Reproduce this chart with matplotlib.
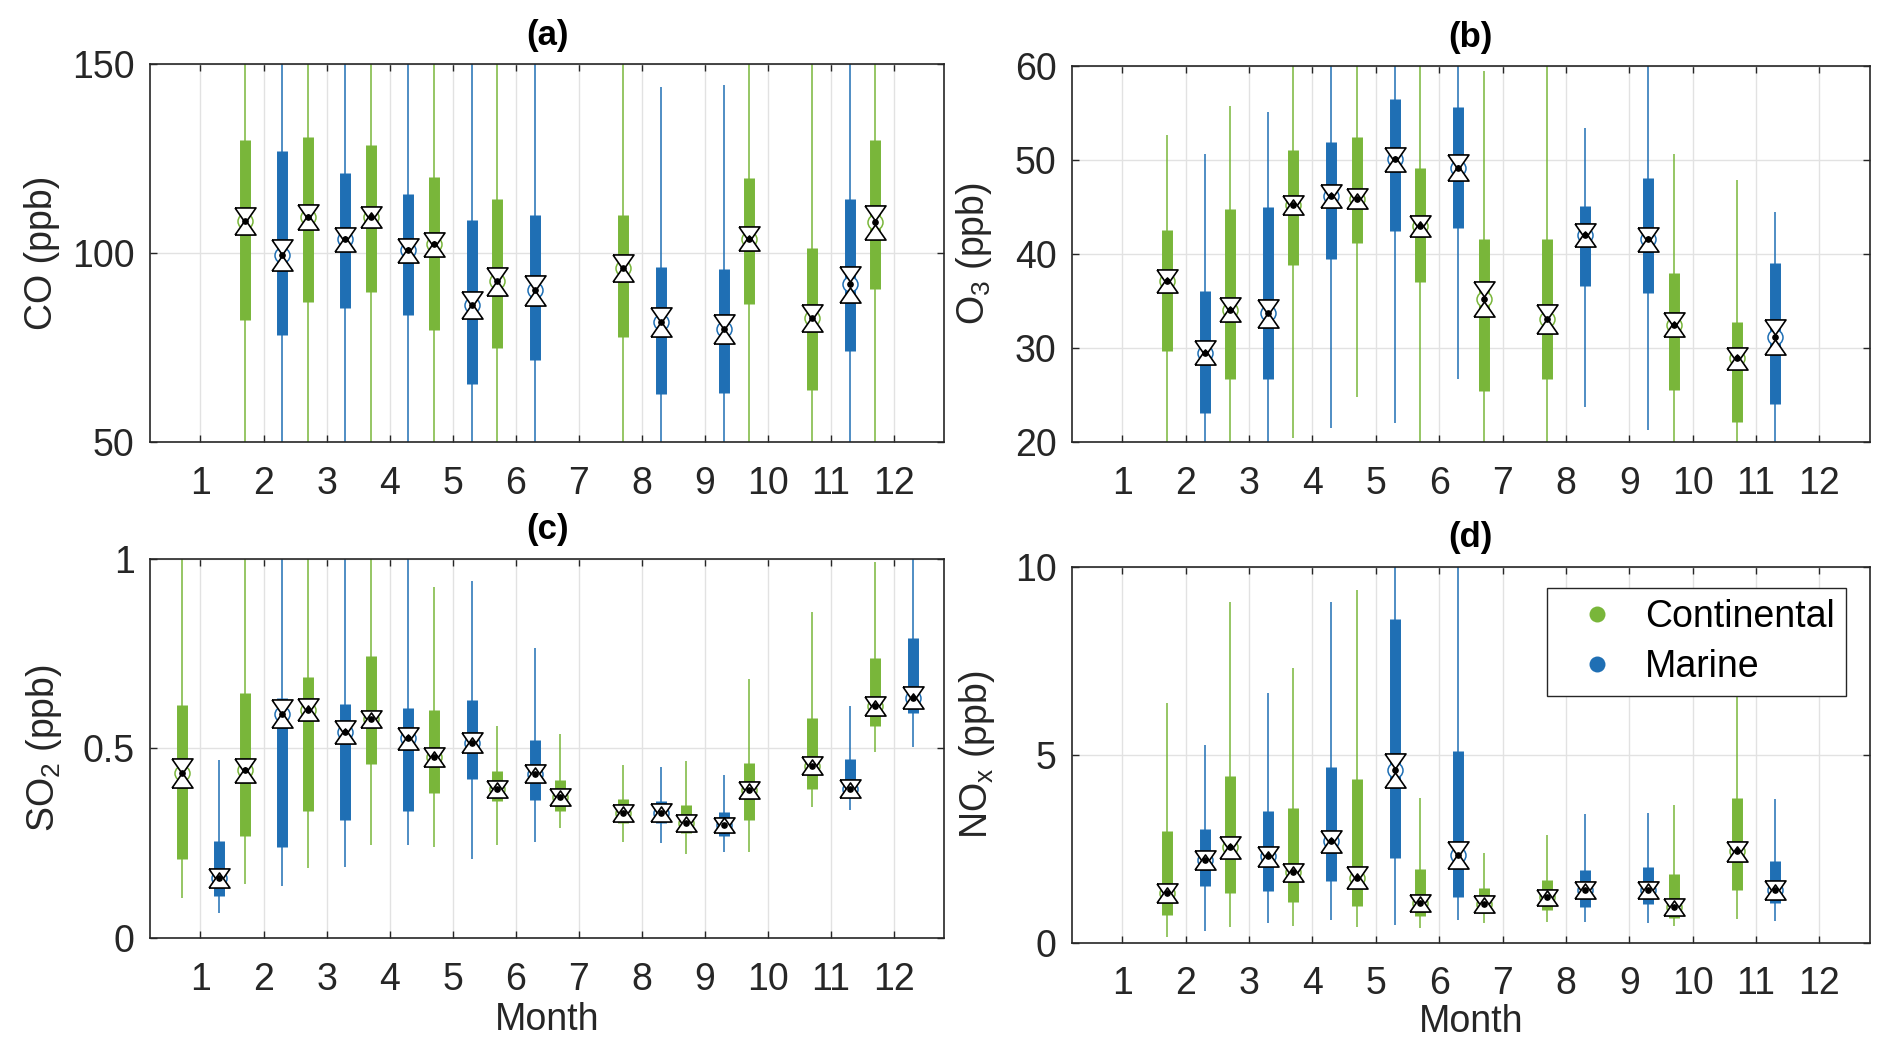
import numpy as np
import matplotlib
matplotlib.use("Agg")
import matplotlib.pyplot as plt
from matplotlib.lines import Line2D

plt.rcParams['font.family'] = ['Liberation Sans', 'DejaVu Sans']
plt.rcParams['mathtext.fontset'] = 'custom'
plt.rcParams['mathtext.rm'] = 'Liberation Sans'
plt.rcParams['mathtext.it'] = 'Liberation Sans:italic'

nan = np.nan
months = np.arange(1, 13)

# ---- (a) CO, ppb ----
co_con_lo = [nan, 45, 45, 45, 45, 45, nan, 45, nan, 45, 45, 45]
co_con_q1 = [nan, 82.3, 87.1, 89.7, 79.7, 74.8, nan, 77.7, nan, 86.5, 63.8, 90.6]
co_con_med = [nan, 108.5, 109.6, 109.6, 102.3, 92.5, nan, 96.0, nan, 103.8, 82.7, 108.1]
co_con_q3 = [nan, 130.0, 130.8, 128.6, 120.1, 114.3, nan, 110.1, nan, 119.9, 101.3, 129.8]
co_con_hi = [nan, 160, 160, 160, 160, 160, nan, 160, nan, 160, 160, 160]
co_con_notch = [nan, 1.6, 1.3, 0.75, 1.2, 1.7, nan, 1.6, nan, 1.2, 1.6, 2.5]

co_mar_lo = [nan, 45, 45, 45, 45, 45, nan, 45, 45, nan, 45, nan]
co_mar_q1 = [nan, 78.2, 85.5, 83.5, 65.4, 71.6, nan, 62.8, 62.9, nan, 74.1, nan]
co_mar_med = [nan, 99.5, 103.6, 100.7, 86.2, 90.2, nan, 81.8, 79.9, nan, 91.7, nan]
co_mar_q3 = [nan, 127.1, 121.3, 115.7, 108.7, 110.0, nan, 96.4, 95.9, nan, 114.2, nan]
co_mar_hi = [nan, 160, 160, 160, 160, 160, nan, 143.9, 144.4, nan, 160, nan]
co_mar_notch = [nan, 2.2, 1.3, 1.15, 1.6, 2.0, nan, 1.85, 1.75, nan, 2.8, nan]

# ---- (b) O3, ppb ----
o3_con_lo = [nan, 18, 18, 20.4, 24.8, 18, 18, 18, nan, 18, 18, nan]
o3_con_q1 = [nan, 29.7, 26.75, 38.8, 41.2, 37.0, 25.4, 26.75, nan, 25.5, 22.1, nan]
o3_con_med = [nan, 37.15, 34.1, 45.2, 45.9, 43.0, 35.2, 33.1, nan, 32.5, 28.9, nan]
o3_con_q3 = [nan, 42.6, 44.8, 51.1, 52.5, 49.2, 41.6, 41.6, nan, 38.0, 32.8, nan]
o3_con_hi = [nan, 52.7, 55.7, 62, 62, 62, 59.5, 62, nan, 50.6, 47.9, nan]
o3_con_notch = [nan, 0.39, 0.50, 0.18, 0.23, 0.32, 1.03, 0.78, nan, 0.44, 0.41, nan]

o3_mar_lo = [nan, 18, 18, 21.5, 22.0, 26.7, nan, 23.7, 21.3, nan, 18, nan]
o3_mar_q1 = [nan, 23.1, 26.75, 39.5, 42.5, 42.8, nan, 36.6, 35.9, nan, 24.1, nan]
o3_mar_med = [nan, 29.5, 33.7, 46.2, 50.1, 49.2, nan, 42.0, 41.55, nan, 31.15, nan]
o3_mar_q3 = [nan, 36.05, 45.0, 51.9, 56.5, 55.6, nan, 45.1, 48.1, nan, 39.1, nan]
o3_mar_hi = [nan, 50.6, 55.1, 62, 62, 62, nan, 53.4, 62, nan, 44.5, nan]
o3_mar_notch = [nan, 0.50, 0.69, 0.43, 0.48, 0.57, nan, 0.44, 0.51, nan, 1.06, nan]

# ---- (c) SO2, ppb ----
so2_con_lo = [0.106, 0.142, 0.185, 0.245, 0.240, 0.245, 0.289, 0.252, 0.221, 0.227, 0.344, 0.490]
so2_con_q1 = [0.209, 0.269, 0.336, 0.458, 0.382, 0.360, 0.335, 0.303, 0.276, 0.310, 0.393, 0.560]
so2_con_med = [0.434, 0.442, 0.602, 0.577, 0.477, 0.394, 0.371, 0.330, 0.303, 0.389, 0.454, 0.612]
so2_con_q3 = [0.615, 0.646, 0.688, 0.744, 0.600, 0.441, 0.417, 0.366, 0.351, 0.460, 0.581, 0.738]
so2_con_hi = [1.05, 1.05, 1.05, 1.05, 0.924, 0.559, 0.537, 0.457, 0.466, 0.682, 0.859, 0.992]
so2_con_notch = [0.0185, 0.0117, 0.0086, 0.0036, 0.0045, 0.0027, 0.0027, 0.0022, 0.0018, 0.0027, 0.0041, 0.0054]

so2_mar_lo = [0.067, 0.138, 0.186, 0.245, 0.209, 0.253, nan, 0.250, 0.228, nan, 0.337, 0.504]
so2_mar_q1 = [0.111, 0.241, 0.312, 0.335, 0.418, 0.364, nan, 0.302, 0.270, nan, 0.382, 0.592]
so2_mar_med = [0.159, 0.591, 0.544, 0.526, 0.515, 0.433, nan, 0.330, 0.297, nan, 0.394, 0.633]
so2_mar_q3 = [0.255, 0.632, 0.616, 0.607, 0.627, 0.523, nan, 0.360, 0.333, nan, 0.471, 0.791]
so2_mar_hi = [0.469, 1.05, 1.05, 1.05, 0.942, 0.764, nan, 0.451, 0.430, nan, 0.611, 1.05]
so2_mar_notch = [0.005, 0.0171, 0.0108, 0.009, 0.0059, 0.0045, nan, 0.0036, 0.0, nan, 0.0041, 0.0095]

# ---- (d) NOx, ppb ----
nox_con_lo = [nan, 0.16, 0.42, 0.44, 0.41, 0.38, 0.53, 0.55, nan, 0.44, 0.62, nan]
nox_con_q1 = [nan, 0.73, 1.33, 1.07, 0.98, 0.71, 0.78, 0.87, nan, 0.64, 1.41, nan]
nox_con_med = [nan, 1.32, 2.53, 1.87, 1.73, 1.05, 1.03, 1.20, nan, 0.95, 2.43, nan]
nox_con_q3 = [nan, 2.98, 4.42, 3.57, 4.34, 1.96, 1.44, 1.66, nan, 1.83, 3.84, nan]
nox_con_hi = [nan, 6.38, 9.06, 7.32, 9.38, 3.84, 2.39, 2.85, nan, 3.66, 7.5, nan]
nox_con_notch = [nan, 0.06, 0.087, 0.041, 0.087, 0.032, 0.019, 0.019, nan, 0.019, 0.073, nan]

nox_mar_lo = [nan, 0.32, 0.53, 0.61, 0.47, 0.59, nan, 0.55, 0.51, nan, 0.57, nan]
nox_mar_q1 = [nan, 1.50, 1.36, 1.64, 2.25, 1.22, nan, 0.94, 1.03, nan, 1.05, nan]
nox_mar_med = [nan, 2.19, 2.30, 2.69, 4.58, 2.33, nan, 1.39, 1.40, nan, 1.40, nan]
nox_mar_q3 = [nan, 3.01, 3.49, 4.66, 8.60, 5.10, nan, 1.93, 2.02, nan, 2.17, nan]
nox_mar_hi = [nan, 5.26, 6.64, 9.06, 10.5, 10.5, nan, 3.43, 3.45, nan, 3.81, nan]
nox_mar_notch = [nan, 0.05, 0.064, 0.096, 0.25, 0.155, nan, 0.027, 0.019, nan, 0.045, nan]

green = '#79b63a'
blue = '#1f6fb4'
dark = '#262626'
fs = 27

# notch markers (triangles a bit wider than tall)
tri_dn = [(-1, 0.72), (1, 0.72), (0, -0.72), (-1, 0.72)]
tri_up = [(-1, -0.72), (1, -0.72), (0, 0.72), (-1, -0.72)]


def draw_boxes(ax, pos, lo, q1, med, q3, hi, notch, color):
    lo, q1, med, q3, hi, notch = [np.asarray(v, float) for v in (lo, q1, med, q3, hi, notch)]
    ok = ~np.isnan(med)
    pos = pos[ok]
    ax.vlines(pos, lo[ok], hi[ok], color=color, lw=1.1, zorder=2)
    ax.vlines(pos, q1[ok], q3[ok], color=color, lw=7.9, capstyle='butt', zorder=3)
    ax.plot(pos, med[ok], ls='none', marker='o', ms=10.8, mfc='white', mec=color, mew=1.1, zorder=4)
    ax.plot(pos, med[ok] + notch[ok], ls='none', marker=tri_dn, ms=15.1, mfc='white', mec='k', mew=1.2, zorder=5)
    ax.plot(pos, med[ok] - notch[ok], ls='none', marker=tri_up, ms=15.1, mfc='white', mec='k', mew=1.2, zorder=5)
    ax.plot(pos, med[ok], ls='none', marker='o', ms=3.8, color='k', zorder=6)


def setup(ax, title, ylabel, ylim, yticks, yticklabels, ylab_x):
    ax.set_xlim(0.2, 12.8)
    ax.set_ylim(*ylim)
    ax.set_xticks(months)
    ax.set_yticks(yticks)
    ax.set_yticklabels(yticklabels)
    ax.grid(True, color='#e2e2e2', lw=1.0)
    ax.set_axisbelow(True)
    ax.tick_params(axis='both', direction='in', top=True, right=True, length=5, width=1,
                   colors=dark, labelsize=fs)
    ax.tick_params(axis='x', pad=17)
    ax.tick_params(axis='y', pad=11)
    for s in ax.spines.values():
        s.set_color(dark)
        s.set_linewidth(1.2)
    ax.set_title(title, fontsize=25, fontweight='bold', pad=14, color='k')
    ax.set_ylabel(ylabel, fontsize=fs, color=dark, va='center')
    ax.yaxis.set_label_coords(ylab_x, 0.5)


fig = plt.figure(figsize=(18.92, 10.55), dpi=100)
ax_a = fig.add_axes([0.0793, 0.5810, 0.4198, 0.3583])
ax_b = fig.add_axes([0.5665, 0.5810, 0.4218, 0.3564])
ax_c = fig.add_axes([0.0793, 0.1109, 0.4198, 0.3596])
ax_d = fig.add_axes([0.5665, 0.1066, 0.4218, 0.3561])

x_con = months - 0.3
x_mar = months + 0.3

draw_boxes(ax_a, x_con, co_con_lo, co_con_q1, co_con_med, co_con_q3, co_con_hi, co_con_notch, green)
draw_boxes(ax_a, x_mar, co_mar_lo, co_mar_q1, co_mar_med, co_mar_q3, co_mar_hi, co_mar_notch, blue)
setup(ax_a, '(a)', 'CO (ppb)', (50, 150), [50, 100, 150], ['50', '100', '150'], -0.136)

draw_boxes(ax_b, x_con, o3_con_lo, o3_con_q1, o3_con_med, o3_con_q3, o3_con_hi, o3_con_notch, green)
draw_boxes(ax_b, x_mar, o3_mar_lo, o3_mar_q1, o3_mar_med, o3_mar_q3, o3_mar_hi, o3_mar_notch, blue)
setup(ax_b, '(b)', r'$\mathregular{O_3}$ (ppb)', (20, 60), [20, 30, 40, 50, 60],
      ['20', '30', '40', '50', '60'], -0.123)

draw_boxes(ax_c, x_con, so2_con_lo, so2_con_q1, so2_con_med, so2_con_q3, so2_con_hi, so2_con_notch, green)
draw_boxes(ax_c, x_mar, so2_mar_lo, so2_mar_q1, so2_mar_med, so2_mar_q3, so2_mar_hi, so2_mar_notch, blue)
setup(ax_c, '(c)', r'$\mathregular{SO_2}$ (ppb)', (0, 1), [0, 0.5, 1], ['0', '0.5', '1'], -0.133)

draw_boxes(ax_d, x_con, nox_con_lo, nox_con_q1, nox_con_med, nox_con_q3, nox_con_hi, nox_con_notch, green)
draw_boxes(ax_d, x_mar, nox_mar_lo, nox_mar_q1, nox_mar_med, nox_mar_q3, nox_mar_hi, nox_mar_notch, blue)
setup(ax_d, '(d)', r'$\mathregular{NO_x}$ (ppb)', (0, 10), [0, 5, 10], ['0', '5', '10'], -0.119)

ax_c.set_xlabel('Month', fontsize=fs, color=dark, va='center')
ax_c.xaxis.set_label_coords(0.5, -0.216)
ax_d.set_xlabel('Month', fontsize=fs, color=dark, va='center')
ax_d.xaxis.set_label_coords(0.5, -0.212)

handles = [Line2D([], [], ls='none', marker='o', ms=11.5, color=green, mec='none'),
           Line2D([], [], ls='none', marker='o', ms=11.5, color=blue, mec='none')]
leg = ax_d.legend(handles, ['Continental', 'Marine'], loc='upper right',
                  bbox_to_anchor=(1846 / 1892, 1 - 588 / 1055), bbox_transform=fig.transFigure,
                  borderaxespad=0, fontsize=fs, fancybox=False, framealpha=1,
                  edgecolor=dark, borderpad=0.3, handlelength=2.07, handletextpad=0.24,
                  labelspacing=0.37)
leg.get_frame().set_linewidth(1.0)
leg.set_zorder(10)

fig.savefig('out.png', dpi=100, facecolor='white')
